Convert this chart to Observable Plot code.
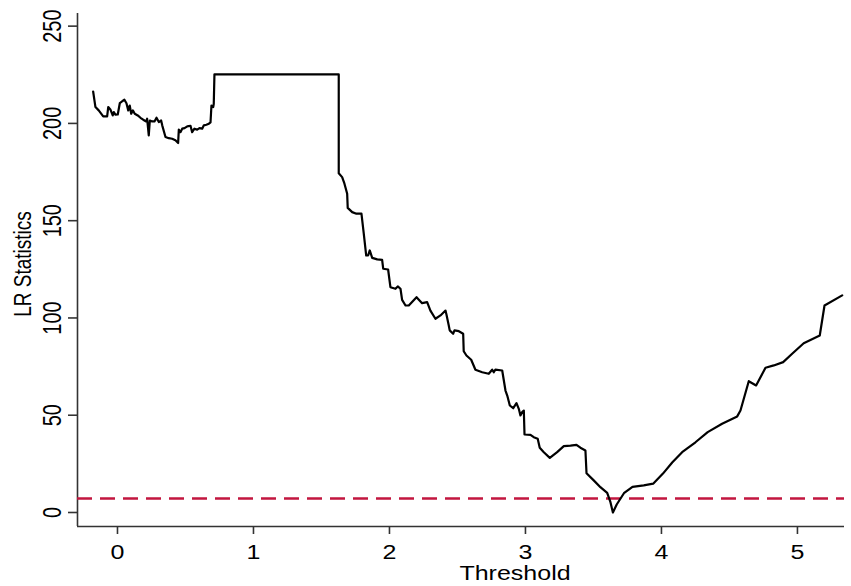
<!DOCTYPE html>
<html>
<head>
<meta charset="utf-8">
<script src="https://cdn.jsdelivr.net/npm/d3@7"></script>
<script src="https://cdn.jsdelivr.net/npm/@observablehq/plot@0.6"></script>
<style>
  html, body { margin: 0; padding: 0; background: #fff; }
  #chart { width: 851px; height: 586px; }
</style>
</head>
<body>
<div id="chart"></div>
<script>
// ---- data ----
const threshold = [
  -0.179, -0.162, -0.138, -0.105, -0.076, -0.068, -0.051, -0.035, -0.027, -0.015,
  0.002, 0.017, 0.035, 0.051, 0.066, 0.079, 0.090, 0.101, 0.113, 0.127,
  0.149, 0.169, 0.189, 0.211, 0.218, 0.230, 0.238, 0.255, 0.272, 0.287,
  0.304, 0.321, 0.329, 0.353, 0.377, 0.402, 0.426, 0.446, 0.451, 0.463,
  0.476, 0.493, 0.513, 0.537, 0.549, 0.566, 0.586, 0.603, 0.623, 0.635,
  0.654, 0.671, 0.684, 0.691, 0.704, 0.708, 0.713, 1.627,
  1.627, 1.652, 1.669, 1.689, 1.693, 1.726, 1.757, 1.794, 1.811, 1.829,
  1.843, 1.855, 1.873, 1.910, 1.946, 1.954, 1.990, 2.007, 2.044, 2.061,
  2.081, 2.093, 2.118, 2.142, 2.199, 2.240, 2.277, 2.301, 2.338, 2.375,
  2.412, 2.419, 2.436, 2.443, 2.468, 2.478, 2.510, 2.542, 2.546, 2.566,
  2.601, 2.632, 2.682, 2.730, 2.755, 2.767, 2.779, 2.829, 2.853, 2.866,
  2.885, 2.910, 2.934, 2.951, 2.963, 2.976, 2.988, 2.993, 3.037, 3.061,
  3.090, 3.105, 3.135, 3.179, 3.233, 3.282, 3.331, 3.375, 3.404, 3.441,
  3.449, 3.502, 3.551, 3.601, 3.625, 3.643, 3.671, 3.724, 3.787, 3.870,
  3.939, 4.011, 4.079, 4.152, 4.250, 4.340, 4.446, 4.557, 4.581, 4.642,
  4.696, 4.765, 4.826, 4.895, 4.961, 5.046, 5.164, 5.199, 5.329
];
const lrStat = [
  216.4, 208.4, 206.7, 203.6, 203.6, 208.4, 207.0, 204.1, 205.8, 204.5,
  204.6, 210.4, 211.4, 212.2, 210.4, 206.7, 209.2, 205.0, 206.7, 205.0,
  204.1, 202.9, 201.9, 201.0, 202.4, 193.8, 201.5, 201.0, 201.0, 202.9,
  200.7, 201.5, 199.0, 193.0, 192.4, 192.1, 191.3, 189.9, 196.8, 195.5,
  197.3, 197.6, 198.5, 198.8, 195.5, 197.3, 196.8, 197.6, 197.3, 199.0,
  199.3, 199.8, 200.5, 209.2, 208.4, 210.1, 225.2, 225.2,
  174.4, 172.4, 169.0, 163.8, 156.6, 154.4, 153.6, 153.6, 143.3, 132.1,
  132.1, 134.7, 130.9, 130.1, 129.9, 125.3, 124.9, 115.8, 115.0, 116.2,
  115.0, 109.3, 106.4, 106.4, 110.7, 107.6, 108.1, 103.8, 99.6, 101.3,
  103.8, 101.8, 96.1, 93.6, 91.9, 93.6, 93.2, 91.9, 82.9, 80.7,
  78.5, 73.4, 72.1, 71.3, 73.4, 72.1, 73.4, 73.0, 62.7, 60.1,
  55.0, 53.6, 56.2, 53.3, 49.9, 51.6, 52.4, 40.1, 39.9, 38.7,
  37.9, 33.3, 31.0, 28.1, 31.0, 34.1, 34.4, 34.8, 33.3, 31.9,
  20.2, 16.5, 13.0, 10.1, 5.3, 0.0, 4.1, 9.9, 13.2, 13.9,
  14.8, 20.0, 25.7, 31.0, 36.1, 41.3, 45.6, 49.4, 52.4, 67.5,
  65.3, 74.4, 75.6, 77.3, 81.6, 87.0, 91.0, 106.4, 111.6
];
const criticalValue = [7.2];
const xTicks = [0, 1, 2, 3, 4, 5];
const yTicks = [0, 50, 100, 150, 200, 250];
const xDomain = [-0.294, 5.346];
const yDomain = [-7.2, 256.5];
const xLabel = "Threshold";
const yLabel = "LR Statistics";

const rows = threshold.map((t, i) => ({t, lr: lrStat[i]}));

const FONT = "'Liberation Sans', Arial, sans-serif";
const AXIS = "#333";

const chart = Plot.plot({
  width: 851,
  height: 586,
  marginLeft: 77,
  marginRight: 7,
  marginTop: 13,
  marginBottom: 60,
  style: {fontFamily: FONT, background: "#fff", color: "#000"},
  x: {domain: xDomain, axis: null},
  y: {domain: yDomain, axis: null},
  marks: [
    // axis lines
    Plot.ruleY([yDomain[0]], {stroke: AXIS, strokeWidth: 1.6}),
    Plot.ruleX([xDomain[0]], {stroke: AXIS, strokeWidth: 1.6}),
    // ticks and x tick labels
    Plot.axisX({ticks: xTicks, tickSize: 8, tickPadding: 10, tickFormat: d => String(d), fontSize: 20,
      stroke: AXIS, strokeWidth: 1.6, label: null, fill: "#000"}),
    Plot.axisY({ticks: yTicks, tickSize: 9, tickFormat: () => "", stroke: AXIS, strokeWidth: 1.6, label: null}),
    // y tick labels (rotated)
    Plot.text(yTicks, {y: d => d, text: d => String(d), frameAnchor: "left", rotate: -90, dx: -17,
      textAnchor: "middle", lineAnchor: "bottom", fontSize: 20, fill: "#000"}),
    // axis titles
    Plot.text([xLabel], {text: d => d, frameAnchor: "bottom", dx: 54, dy: 53, lineAnchor: "bottom",
      fontSize: 20, fill: "#000"}),
    Plot.text([yLabel], {text: d => d, frameAnchor: "left", rotate: -90, dx: -47, dy: -6,
      textAnchor: "middle", lineAnchor: "bottom", fontSize: 19, fill: "#000"}),
    // critical value
    Plot.ruleY(criticalValue, {stroke: "#c2163f", strokeWidth: 2.5, strokeDasharray: "15,8"}),
    // LR curve
    Plot.line(rows, {x: "t", y: "lr", stroke: "#000", strokeWidth: 2.2, strokeLinejoin: "round"})
  ]
});

document.getElementById("chart").appendChild(chart);

// horizontal stretch of texts (as in the reference image)
const stretch = 1.25;
const yTickStrings = yTicks.map(String);
const xTickStrings = xTicks.map(String);
chart.querySelectorAll("text").forEach(t => {
  const s = t.textContent;
  const tr = t.getAttribute("transform") || "";
  const rotated = tr.includes("rotate");
  if (rotated && (yTickStrings.includes(s) || s === yLabel)) {
    t.setAttribute("transform", tr + " scale(1," + stretch + ")");
  } else if (!rotated && (xTickStrings.includes(s) || s === xLabel)) {
    const len = t.getComputedTextLength();
    if (len > 0) {
      t.setAttribute("textLength", len * stretch);
      t.setAttribute("lengthAdjust", "spacingAndGlyphs");
    }
  }
});
</script>
</body>
</html>
